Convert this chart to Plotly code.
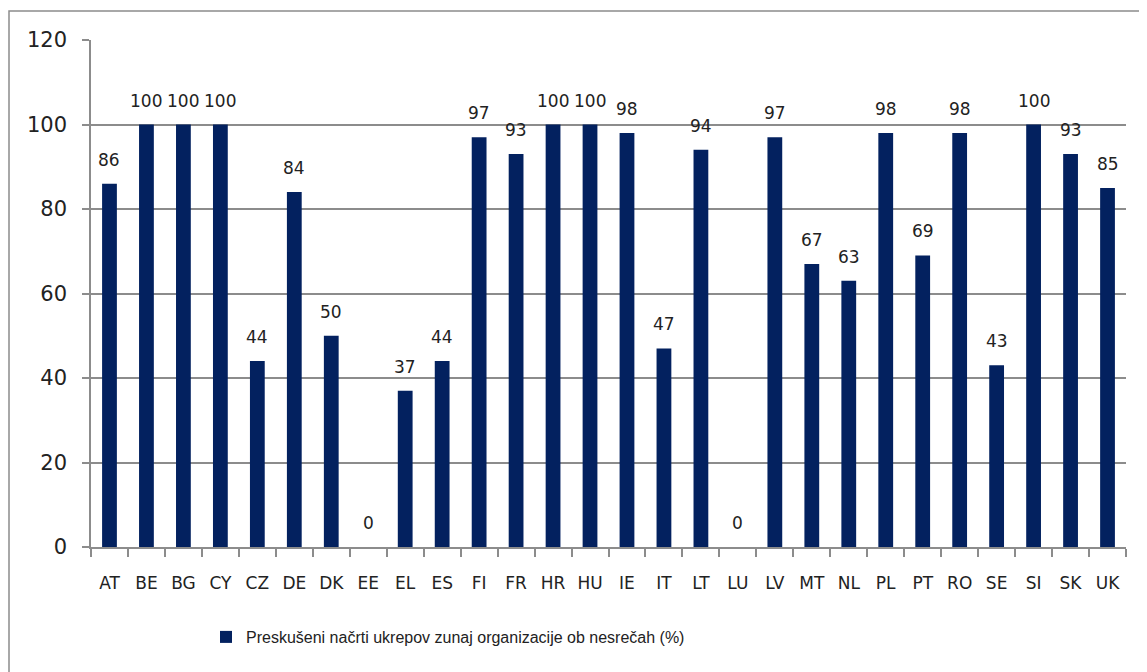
import plotly.graph_objects as go

countries = ["AT", "BE", "BG", "CY", "CZ", "DE", "DK", "EE", "EL", "ES", "FI", "FR", "HR", "HU",
             "IE", "IT", "LT", "LU", "LV", "MT", "NL", "PL", "PT", "RO", "SE", "SI", "SK", "UK"]
values = [86, 100, 100, 100, 44, 84, 50, 0, 37, 44, 97, 93, 100, 100,
          98, 47, 94, 0, 97, 67, 63, 98, 69, 98, 43, 100, 93, 85]
series_name = "Preskušeni načrti ukrepov zunaj organizacije ob nesrečah (%)"
y_ticks = [0, 20, 40, 60, 80, 100, 120]

BAR = "#03215F"
GRID = "#8C8C8C"

# page body has an 8px margin; figure is sized/positioned to compensate
OFF = 8
FW, FH = 1139, 664
PL_, PR_, PT_, PB_ = 91, 1126, 40, 547  # target plot area in window pixels
L = PL_ - OFF
T = PT_ - OFF
R = OFF + FW - PR_
B = OFF + FH - PB_
W, H = PR_ - PL_, PB_ - PT_

def px_x(p):
    return (p - PL_) / W

def px_y(p):
    return (PB_ - p) / H

fig = go.Figure()
fig.add_trace(go.Bar(
    x=countries, y=values, name=series_name,
    marker=dict(color=BAR, line=dict(width=0)),
    width=0.4, showlegend=True,
))

annotations = []
for c, v in zip(countries, values):
    annotations.append(dict(
        x=c, y=v, xref="x", yref="y", text=str(v), showarrow=False,
        yanchor="bottom", yshift=12,
        font=dict(family="DejaVu Sans", size=17, color="#222222"),
    ))

shapes = [dict(type="rect", xref="paper", yref="paper",
               x0=px_x(9), x1=px_x(1170), y0=px_y(700), y1=px_y(11),
               line=dict(color="#8C8C8C", width=1.5), fillcolor="rgba(0,0,0,0)", layer="below")]

fig.update_layout(
    width=FW, height=FH,
    margin=dict(l=L, r=R, t=T, b=B),
    paper_bgcolor="white", plot_bgcolor="white",
    annotations=annotations,
    shapes=shapes,
    legend=dict(orientation="h", x=px_x(206), xanchor="left", y=px_y(637), yanchor="middle",
                font=dict(family="Liberation Sans", size=16, color="#222222"),
                itemwidth=30, bgcolor="rgba(0,0,0,0)"),
    xaxis=dict(
        type="category", showline=True, linecolor=GRID, linewidth=1.5,
        ticks="outside", tickson="boundaries", ticklen=8, tickcolor=GRID, tickwidth=1.5,
        showgrid=False, ticklabelstandoff=20,
        tickfont=dict(family="DejaVu Sans", size=17, color="#222222"),
        range=[-0.5, len(countries) - 0.5],
    ),
    yaxis=dict(
        range=[0, 120], tickvals=y_ticks, showline=True, linecolor=GRID, linewidth=1.5,
        ticks="outside", ticklen=7, tickcolor=GRID, tickwidth=1.5,
        showgrid=True, gridcolor=GRID, gridwidth=1.5, zeroline=False,
        ticklabelstandoff=11,
        tickfont=dict(family="DejaVu Sans", size=21, color="#222222"),
    ),
)

fig.write_html("out.html")
